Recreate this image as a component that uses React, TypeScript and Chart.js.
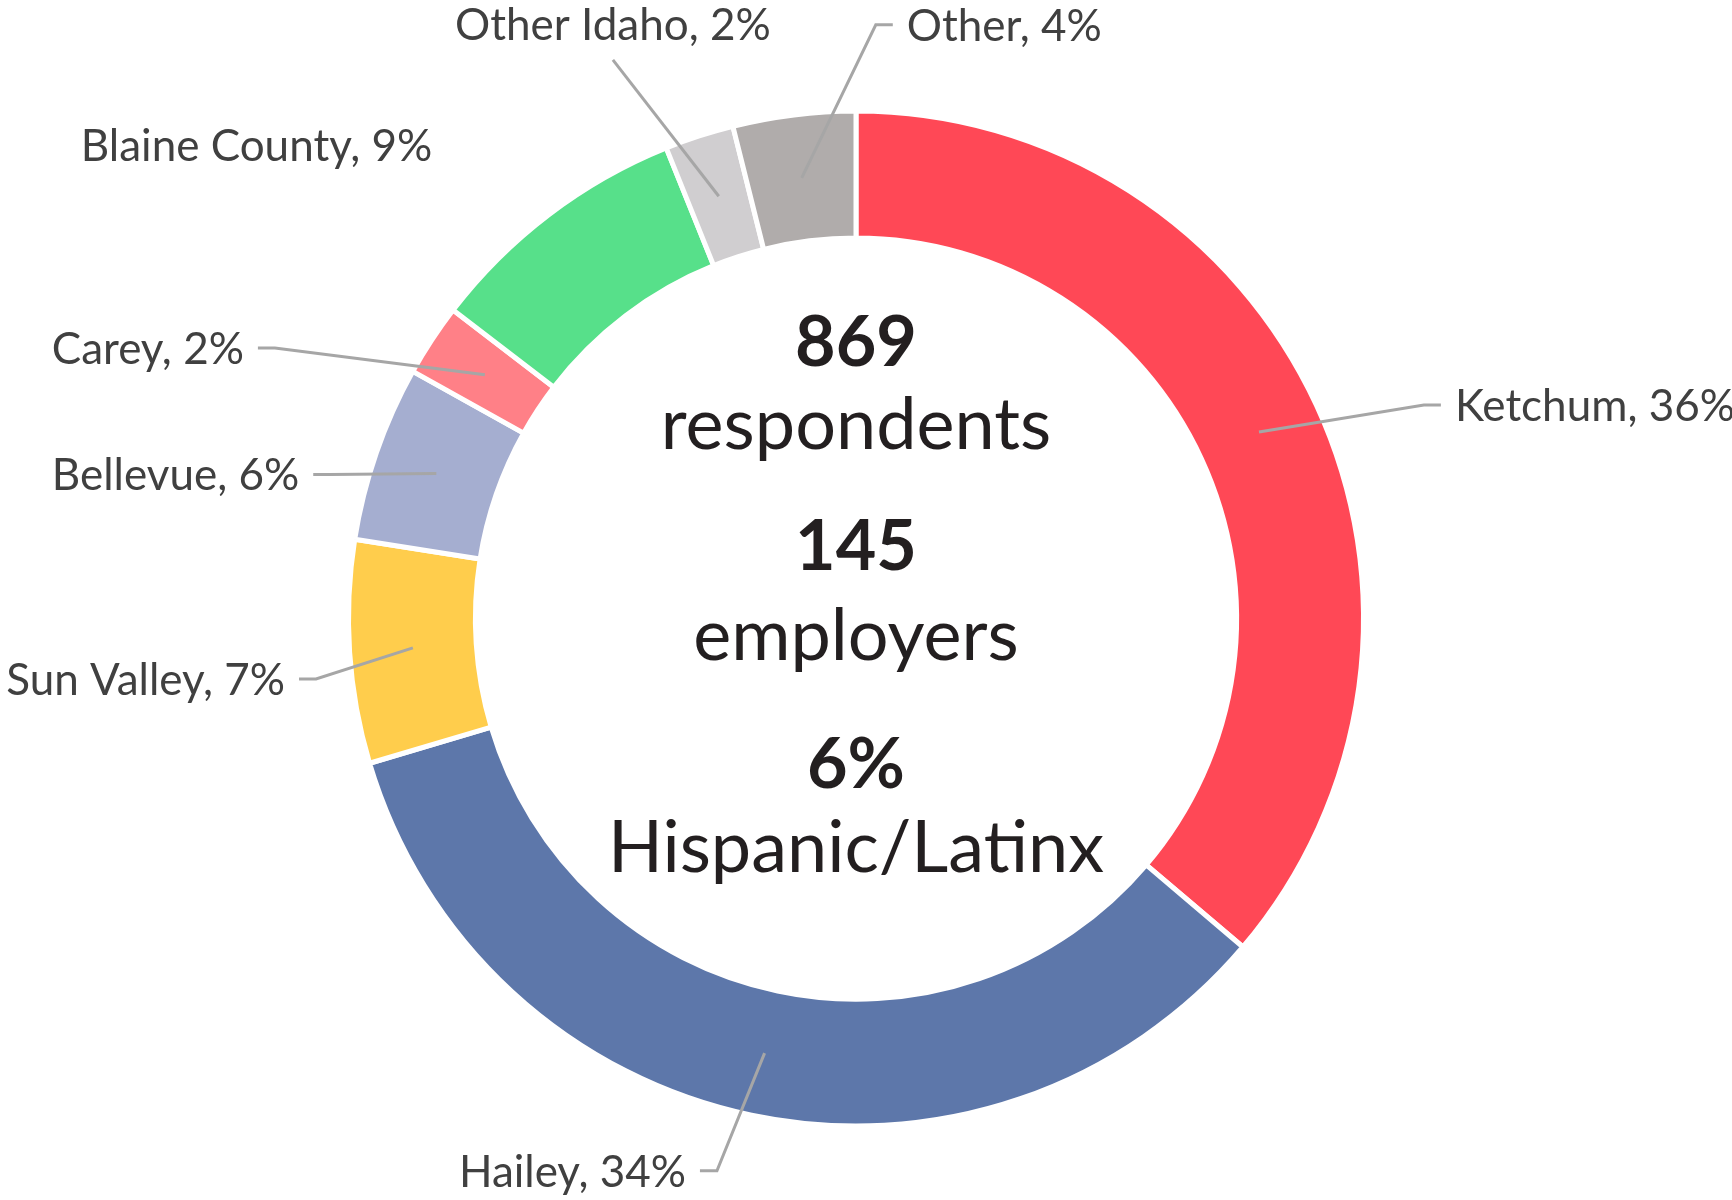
import React, { useEffect, useRef } from "react";
import { Chart, registerables } from "chart.js";

Chart.register(...registerables);

// ---- data ----
const categories = ["Ketchum", "Hailey", "Sun Valley", "Bellevue", "Carey", "Blaine County", "Other Idaho", "Other"];
const shares = [36.2, 34.2, 7.1, 5.6, 2.3, 8.5, 2.2, 3.9];
const sliceColors = ["#FF4856", "#5D77AA", "#FFCD4C", "#A5AED0", "#FF8087", "#57E08A", "#D0CED0", "#B0ACAB"];
const centerFigures = ["869", "145", "6%"];
const centerCaptions = ["respondents", "employers", "Hispanic/Latinx"];

// ---- layout (label elbow positions relative to centre, in units of the outer radius) ----
type Side = "left" | "right" | "above" | "free";
const labelElbowX = [1.119, -0.274, -1.064, -1.036, -1.145, -0.835, -0.479, 0.039];
const labelElbowY = [-0.421, 1.088, 0.119, -0.284, -0.533, -0.933, -1.101, -1.17];
const labelSide: Side[] = ["right", "left", "left", "left", "left", "free", "above", "right"];
const centerFigureOffsets = [-0.498, -0.096, 0.334];
const centerCaptionOffsets = [-0.334, 0.082, 0.499];

const LABEL_FONT_SIZE = 44;
const LABEL_FONT = `${LABEL_FONT_SIZE}px Lato`;
const FIGURE_SIZE = 70;
const CAPTION_SIZE = 72;

const labelsPlugin = {
  id: "outerLabels",
  afterDatasetsDraw(chart: any) {
    const ctx = chart.ctx as CanvasRenderingContext2D;
    const meta = chart.getDatasetMeta(0);
    const data = chart.data.datasets[0].data as number[];
    const labels = chart.data.labels as string[];
    ctx.save();
    meta.data.forEach((arc: any, i: number) => {
      const R = arc.outerRadius;
      const cx = arc.x;
      const cy = arc.y;
      const start = arc.getCenterPoint();
      const ex = cx + labelElbowX[i] * R;
      const ey = cy + labelElbowY[i] * R;
      const side = labelSide[i];
      const text = `${labels[i]}, ${Math.round(data[i])}%`;
      const capOffset = LABEL_FONT_SIZE * 0.36;
      ctx.strokeStyle = "#A6A6A6";
      ctx.lineWidth = 3;
      ctx.lineJoin = "miter";
      ctx.font = LABEL_FONT;
      ctx.fillStyle = "#404040";
      ctx.textBaseline = "alphabetic";
      const tail = 17;
      const gap = 14;
      if (side === "left" || side === "right") {
        const dir = side === "right" ? 1 : -1;
        ctx.beginPath();
        ctx.moveTo(start.x, start.y);
        ctx.lineTo(ex, ey);
        ctx.lineTo(ex + dir * tail, ey);
        ctx.stroke();
        ctx.textAlign = side === "right" ? "left" : "right";
        ctx.fillText(text, ex + dir * (tail + gap), ey + capOffset);
      } else if (side === "above") {
        ctx.beginPath();
        ctx.moveTo(start.x, start.y);
        ctx.lineTo(ex, ey);
        ctx.stroke();
        ctx.textAlign = "center";
        ctx.fillText(text, ex, ey - 20);
      } else {
        ctx.textAlign = "right";
        ctx.fillText(text, ex, ey + capOffset);
      }
    });
    ctx.restore();
  },
};

const centerPlugin = {
  id: "centerText",
  afterDraw(chart: any) {
    const ctx = chart.ctx as CanvasRenderingContext2D;
    const arc = chart.getDatasetMeta(0).data[0] as any;
    if (!arc) return;
    const R = arc.outerRadius;
    ctx.save();
    ctx.fillStyle = "#231F20";
    ctx.textAlign = "center";
    ctx.textBaseline = "alphabetic";
    centerFigures.forEach((t, i) => {
      ctx.font = `bold ${FIGURE_SIZE}px Lato`;
      ctx.fillText(t, arc.x, arc.y + centerFigureOffsets[i] * R);
    });
    centerCaptions.forEach((t, i) => {
      ctx.font = `${CAPTION_SIZE}px Lato`;
      ctx.fillText(t, arc.x, arc.y + centerCaptionOffsets[i] * R);
    });
    ctx.restore();
  },
};

export default function App() {
  const canvasRef = useRef<HTMLCanvasElement | null>(null);

  useEffect(() => {
    let chart: Chart | null = null;
    let cancelled = false;
    const make = () => {
      if (cancelled || !canvasRef.current) return;
      chart = new Chart(canvasRef.current, {
        type: "doughnut",
        data: {
          labels: categories,
          datasets: [
            {
              data: shares,
              backgroundColor: sliceColors,
              borderColor: "#FFFFFF",
              borderWidth: 5,
              hoverBorderWidth: 5,
              hoverOffset: 0,
            },
          ],
        },
        options: {
          responsive: false,
          animation: false,
          cutout: "75%",
          rotation: 0,
          layout: { padding: { left: 346, top: 108.6, right: 366, bottom: 71.4 } },
          plugins: {
            legend: { display: false },
            tooltip: { enabled: false },
          },
          events: [],
        },
        plugins: [labelsPlugin, centerPlugin],
      });
    };
    const fontsApi = (document as any).fonts;
    if (fontsApi && fontsApi.load) {
      Promise.all([
        fontsApi.load(LABEL_FONT),
        fontsApi.load(`bold ${FIGURE_SIZE}px Lato`),
        fontsApi.load(`${CAPTION_SIZE}px Lato`),
      ])
        .catch(() => undefined)
        .then(make);
    } else {
      make();
    }
    return () => {
      cancelled = true;
      if (chart) chart.destroy();
    };
  }, []);

  return (
    <div style={{ position: "fixed", left: 0, top: 0, width: 1732, height: 1200, background: "#FFFFFF" }}>
      <canvas ref={canvasRef} width={1732} height={1200} style={{ display: "block", width: 1732, height: 1200 }} />
    </div>
  );
}
